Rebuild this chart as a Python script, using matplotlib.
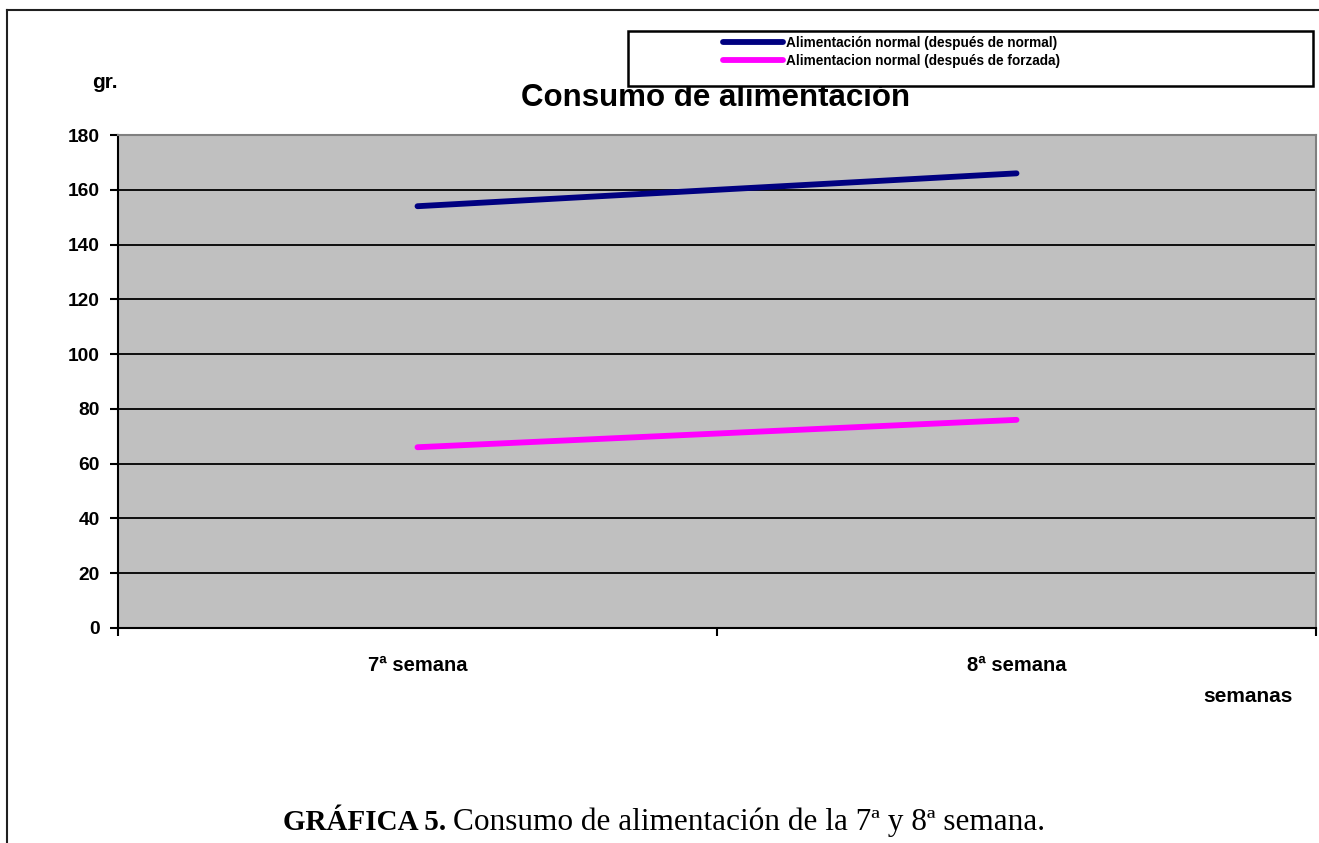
import matplotlib
matplotlib.use('Agg')

import matplotlib.pyplot as plt
from matplotlib.patches import Rectangle
from matplotlib.lines import Line2D

# Data
semanas = ['7ª semana', '8ª semana']
despues_normal = [154, 166]
despues_forzada = [66, 76]
series_labels = ['Alimentación normal (después de normal)',
                 'Alimentacion normal (después de forzada)']
yticks = [0, 20, 40, 60, 80, 100, 120, 140, 160, 180]

W, H = 1319, 843
fig = plt.figure(figsize=(W / 100, H / 100), dpi=100)
plt.rcParams['font.family'] = ['Liberation Sans', 'DejaVu Sans']

def fx(px):
    return px / W

def fy(py):
    return 1 - py / H

ax = fig.add_axes([fx(118), fy(628), fx(1316) - fx(118), fy(135) - fy(628)])
ax.set_facecolor('#C0C0C0')

xpos = [i + 0.5 for i in range(len(semanas))]
l1, = ax.plot(xpos, despues_normal, color='#000080', lw=4.2, solid_capstyle='round', zorder=3)
l2, = ax.plot(xpos, despues_forzada, color='#FF00FF', lw=4.2, solid_capstyle='round', zorder=3)

ax.set_xlim(0, len(semanas))
ax.set_ylim(0, 180)
ax.set_yticks(yticks)
ax.set_xticks(xpos)
ax.set_xticklabels(semanas, fontsize=14.5, fontweight='bold')
ax.set_xticks(range(len(semanas) + 1), minor=True)
ax.tick_params(axis='x', which='major', length=0, pad=20)
ax.tick_params(axis='x', which='minor', length=6, width=1.5, direction='out')
ax.tick_params(axis='y', length=6, width=1.5, direction='out', pad=7, labelsize=13.8)
for lab in ax.get_yticklabels():
    lab.set_fontweight('bold')

for v in yticks[1:-1]:
    ax.axhline(v, color='black', lw=1.3, zorder=1)

ax.spines['left'].set_color('black')
ax.spines['left'].set_linewidth(1.5)
ax.spines['bottom'].set_color('black')
ax.spines['bottom'].set_linewidth(1.5)
ax.spines['top'].set_color('#808080')
ax.spines['top'].set_linewidth(1.5)
ax.spines['right'].set_color('#808080')
ax.spines['right'].set_linewidth(1.5)

# title (under legend box)
fig.text(fx(716), fy(98), 'Consumo de alimentación', ha='center', va='center',
         fontsize=22.5, fontweight='bold', zorder=1)

# legend box
fig.patches.append(Rectangle((fx(628), fy(86)), fx(1313) - fx(628), fy(31) - fy(86),
                             transform=fig.transFigure, facecolor='white',
                             edgecolor='black', lw=1.8, zorder=5))
leg = fig.legend([l1, l2], series_labels, loc='upper left',
                 bbox_to_anchor=(fx(723), fy(36)), frameon=False,
                 handlelength=4.4, handletextpad=0.25, labelspacing=0.27,
                 borderaxespad=0, borderpad=0,
                 prop={'weight': 'bold', 'size': 9.8})
leg.set_zorder(6)

fig.text(fx(105), fy(82), 'gr.', ha='center', va='center', fontsize=15, fontweight='bold')
fig.text(fx(1248), fy(697), 'semanas', ha='center', va='center', fontsize=15, fontweight='bold')

# caption
fig.text(fx(446), fy(830), 'GRÁFICA 5.', ha='right', va='baseline',
         fontsize=21, fontweight='bold', family='Liberation Serif')
fig.text(fx(453), fy(830), 'Consumo de alimentación de la 7ª y 8ª semana.', ha='left',
         va='baseline', fontsize=22.5, family='Liberation Serif')

# outer frame
fig.lines.append(Line2D([fx(7), fx(7)], [0, fy(10)], transform=fig.transFigure, color='#202020', lw=1.5))
fig.lines.append(Line2D([fx(7), 1], [fy(10), fy(10)], transform=fig.transFigure, color='#202020', lw=1.5))

fig.savefig('out.png', dpi=100)
